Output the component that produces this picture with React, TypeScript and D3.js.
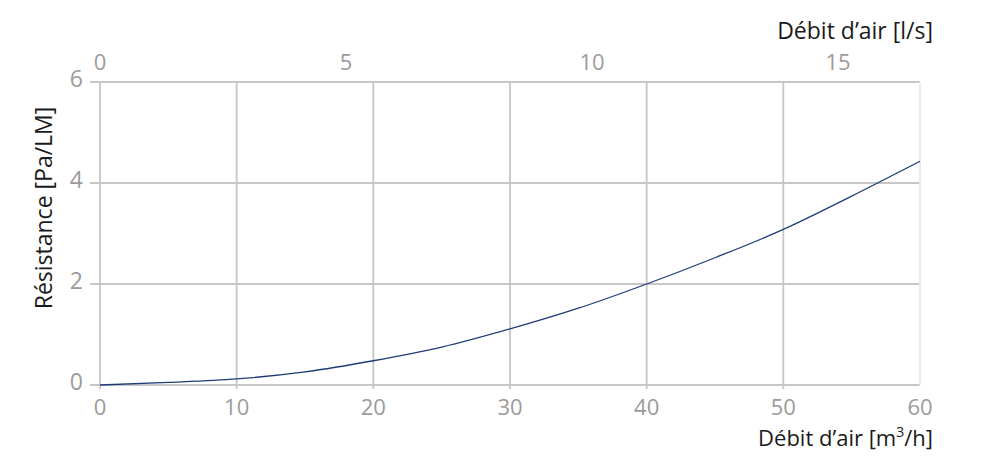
import * as d3 from 'd3';

const flowM3h = [0, 5, 10, 15, 20, 25, 30, 35, 40, 45, 50, 55, 60];
const resistance = [0, 0.05, 0.12, 0.26, 0.48, 0.75, 1.11, 1.52, 2.0, 2.52, 3.08, 3.74, 4.43];
const bottomTicks = [0, 10, 20, 30, 40, 50, 60];
const topTicks = [0, 5, 10, 15];
const yTicks = [0, 2, 4, 6];

const width = 1000;
const height = 473;
const margin = { top: 82, right: 80, bottom: 88, left: 100 };
const font = '"Open Sans", "Noto Sans", sans-serif';
const grid = '#c6c6c6';
const tickText = '#9b9b9b';

function App() {
  const x = d3
    .scaleLinear()
    .domain([0, 60])
    .range([margin.left, width - margin.right]);
  // 1 l/s = 3.6 m3/h
  const xTop = d3
    .scaleLinear()
    .domain([0, 60 / 3.6])
    .range([margin.left, width - margin.right]);
  const y = d3
    .scaleLinear()
    .domain([0, 6])
    .range([height - margin.bottom, margin.top]);

  const data = flowM3h.map((f, i) => ({ f, r: resistance[i] }));
  const line = d3
    .line<{ f: number; r: number }>()
    .x((d) => x(d.f))
    .y((d) => y(d.r))
    .curve(d3.curveMonotoneX);

  const x0 = x(0);
  const x1 = x(60);
  const yBottom = y(0);

  return (
    <svg
      width={width}
      height={height}
      style={{ position: 'absolute', left: 0, top: 0, background: '#fff' }}
      fontFamily={font}
    >
      {/* horizontal grid + y ticks */}
      {yTicks.map((t) => (
        <line key={'h' + t} x1={x0 - 10} x2={x1} y1={y(t)} y2={y(t)} stroke={grid} strokeWidth={1.8} />
      ))}
      {/* vertical grid */}
      {bottomTicks.map((t) => (
        <line
          key={'v' + t}
          x1={x(t)}
          x2={x(t)}
          y1={y(6)}
          y2={yBottom + (t === 60 ? 0 : 4)}
          stroke={t === 60 ? '#e8e8e8' : grid}
          strokeWidth={1.8}
        />
      ))}

      <path d={line(data) ?? ''} fill="none" stroke="#1f3b78" strokeWidth={1.3} />

      {yTicks.map((t) => (
        <text key={'yt' + t} x={83} y={y(t) + 5} textAnchor="end" fontSize={23} fill={tickText}>
          {t}
        </text>
      ))}
      {bottomTicks.map((t) => (
        <text key={'bt' + t} x={x(t)} y={415} textAnchor="middle" fontSize={22} fill={tickText}>
          {t}
        </text>
      ))}
      {topTicks.map((t) => (
        <text key={'tt' + t} x={xTop(t)} y={70} textAnchor="middle" fontSize={22} fill={tickText}>
          {t}
        </text>
      ))}

      <text x={933} y={39} textAnchor="end" fontSize={23} fill="#1a1a1a">
        Débit d’air [l/s]
      </text>
      <text x={933} y={446} textAnchor="end" fontSize={22} fill="#1a1a1a">
        Débit d’air [m<tspan fontSize={14} dy={-9}>3</tspan>
        <tspan dy={9}>/h]</tspan>
      </text>
      <text
        transform={`translate(52,208) rotate(-90)`}
        textAnchor="middle"
        fontSize={23}
        fill="#1a1a1a"
      >
        Résistance [Pa/LM]
      </text>
    </svg>
  );
}

export default App;
